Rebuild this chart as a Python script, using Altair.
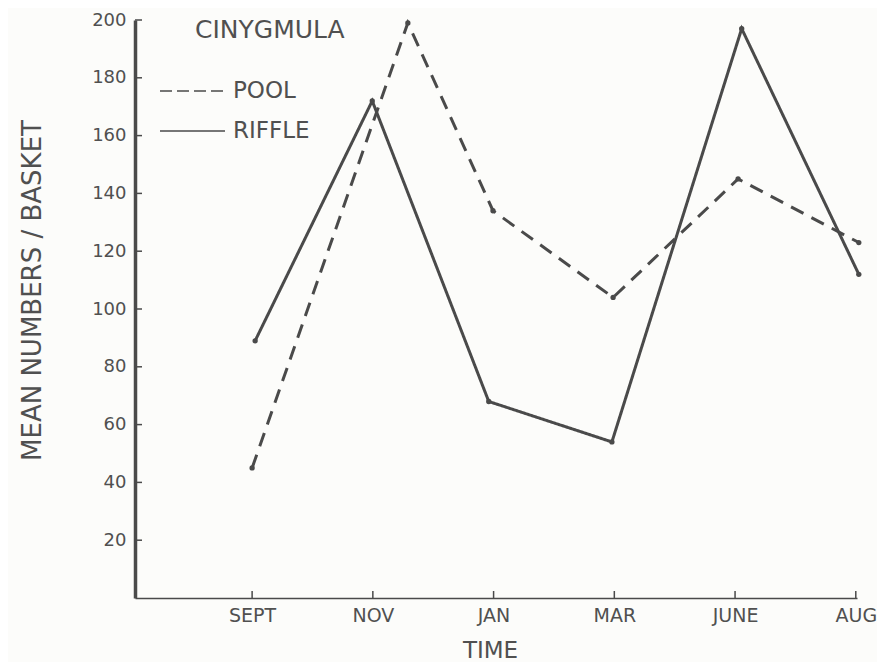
import altair as alt
import pandas as pd

# ---- data ----
months = ["SEPT", "NOV", "JAN", "MAR", "JUNE", "AUG"]
month_pos = [0, 2, 4, 6, 8, 10]
series_names = ["POOL", "RIFFLE"]
pool_t = [0.0, 2.58, 3.99, 5.98, 8.05, 10.05]
pool_n = [45, 199, 134, 104, 145, 123]
riffle_t = [0.05, 1.99, 3.92, 5.96, 8.11, 10.05]
riffle_n = [89, 172, 68, 54, 197, 112]
y_ticks = [20, 40, 60, 80, 100, 120, 140, 160, 180, 200]
chart_label = "CINYGMULA"

INK = "#4a4a4a"
TXT = "#505050"
FONT = "DejaVu Sans"

df = pd.DataFrame({
    "t": pool_t + riffle_t,
    "n": pool_n + riffle_n,
    "s": [series_names[0]] * len(pool_t) + [series_names[1]] * len(riffle_t),
})

xs = alt.Scale(domain=[-1.94, 10.02], nice=False, zero=False)
ys = alt.Scale(domain=[0, 200], nice=False, zero=True)

label_expr = "[" + ",".join("'%s'" % m for m in months) + "][round(datum.value/2)]"

x_axis = alt.Axis(values=month_pos, labelExpr=label_expr, ticks=False, grid=False,
                  domainColor=INK, domainWidth=1.5, labelColor=TXT, labelFontSize=19,
                  labelPadding=8, labelFont=FONT, title="TIME", titleFont=FONT,
                  titleFontSize=23, titleFontWeight="normal", titleColor=TXT,
                  titleX=355, titleY=52, titleBaseline="middle", titleAlign="center")
y_axis = alt.Axis(values=y_ticks, ticks=False, grid=False, domainColor=INK,
                  domainWidth=3.5, labelColor=TXT, labelFontSize=18, labelPadding=9,
                  labelFont=FONT, title="MEAN NUMBERS / BASKET", titleFont=FONT,
                  titleFontSize=26, titleFontWeight="normal", titleColor=TXT,
                  titleX=-103, titleY=270, titleAngle=270, titleBaseline="middle",
                  titleAlign="center")

lines = alt.Chart(df).mark_line(
    color=INK, strokeWidth=3,
    point=alt.OverlayMarkDef(filled=True, size=28, color=INK),
).encode(
    x=alt.X("t:Q", scale=xs, axis=x_axis),
    y=alt.Y("n:Q", scale=ys, axis=y_axis),
    strokeDash=alt.StrokeDash("s:N", scale=alt.Scale(domain=series_names,
                                                     range=[[14, 9], [1, 0]]),
                              legend=None),
    detail="s:N",
)

ytick = alt.Chart(pd.DataFrame({"n": y_ticks})).mark_rule(color=INK, strokeWidth=1.5).encode(
    y=alt.Y("n:Q", scale=ys, axis=y_axis), x=alt.value(0), x2=alt.value(7))
xtick = alt.Chart(pd.DataFrame({"t": month_pos})).mark_rule(color=INK, strokeWidth=1.5).encode(
    x=alt.X("t:Q", scale=xs, axis=x_axis), y=alt.value(578), y2=alt.value(571))

# manual legend
leg_pool = alt.Chart(pd.DataFrame({"s": [series_names[0]]})).mark_rule(
    color=INK, strokeWidth=1.5, strokeDash=[12, 5]).encode(
    x=alt.value(25), x2=alt.value(90), y=alt.value(71))
leg_riffle = alt.Chart(pd.DataFrame({"s": [series_names[1]]})).mark_rule(
    color=INK, strokeWidth=1.5).encode(
    x=alt.value(25), x2=alt.value(90), y=alt.value(111))
txt_pool = alt.Chart(pd.DataFrame({"s": [series_names[0]]})).mark_text(
    font=FONT, fontSize=23, color=TXT, align="left", baseline="middle").encode(
    text="s:N", x=alt.value(98), y=alt.value(71))
txt_riffle = alt.Chart(pd.DataFrame({"s": [series_names[1]]})).mark_text(
    font=FONT, fontSize=23, color=TXT, align="left", baseline="middle").encode(
    text="s:N", x=alt.value(98), y=alt.value(111))
txt_title = alt.Chart(pd.DataFrame({"s": [chart_label]})).mark_text(
    font=FONT, fontSize=25, color=TXT, align="left", baseline="middle").encode(
    text="s:N", x=alt.value(60), y=alt.value(10))

chart = alt.layer(lines, ytick, xtick, leg_pool, leg_riffle, txt_pool, txt_riffle, txt_title).properties(
    width=722, height=578,
    autosize=alt.AutoSizeParams(type="none"),
    padding={"left": 127, "top": 12, "right": 20, "bottom": 64},
    background="#fcfcfa",
).configure_view(stroke=None)

chart.save("out.html", embed_options={"renderer": "svg", "actions": False})
